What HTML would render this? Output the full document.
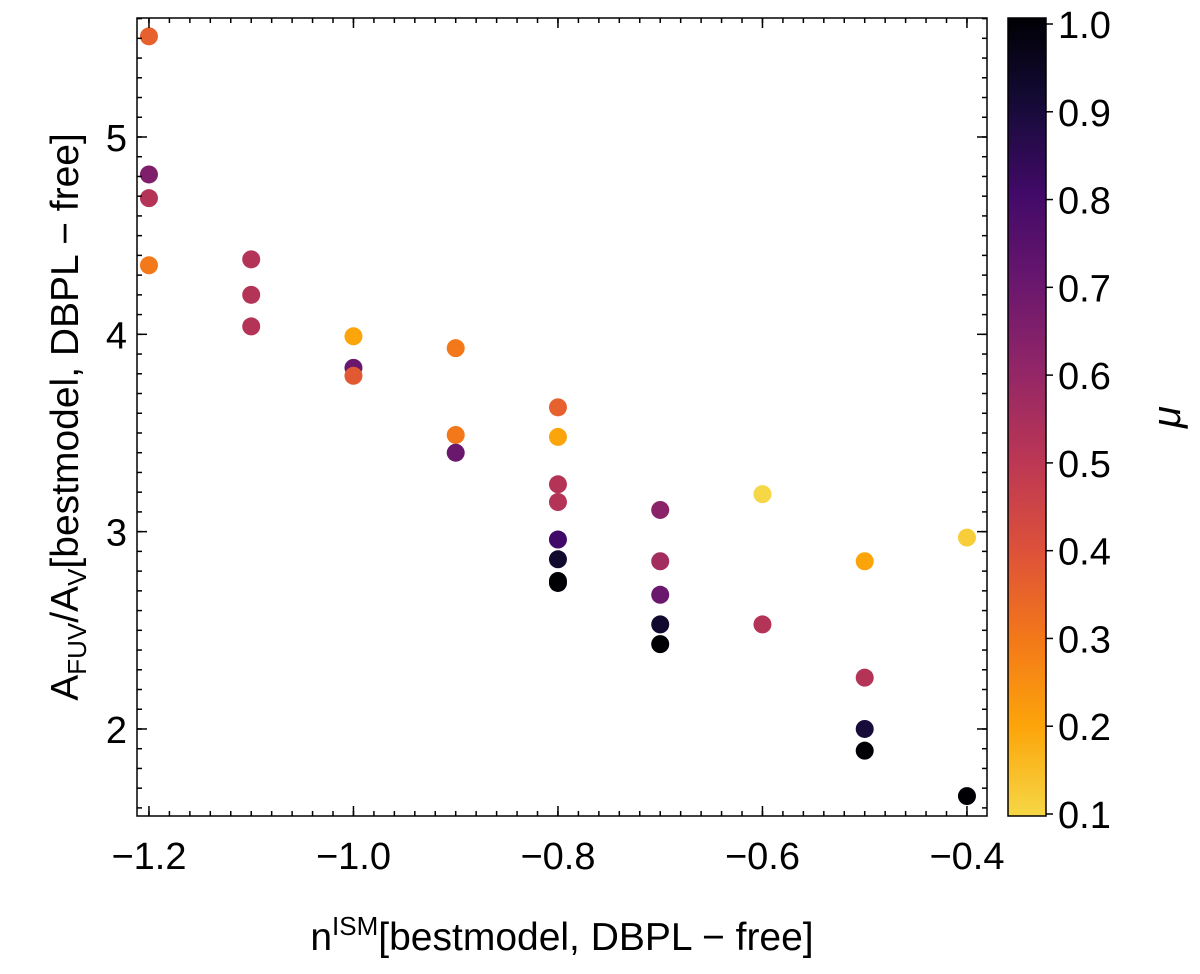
<!DOCTYPE html>
<html><head><meta charset="utf-8"><style>
body{margin:0;background:#fff;}
svg text{font-family:"Liberation Sans","DejaVu Sans",sans-serif;fill:#000;}
</style></head><body>
<svg id="chart" width="1200" height="969" viewBox="0 0 1200 969" xmlns="http://www.w3.org/2000/svg">
<defs>
<linearGradient id="cbgrad" x1="0" y1="1" x2="0" y2="0">
<stop offset="0" stop-color="#f6d746"/><stop offset="0.111" stop-color="#fca50a"/>
<stop offset="0.222" stop-color="#f37819"/><stop offset="0.333" stop-color="#dd513a"/>
<stop offset="0.444" stop-color="#bc3754"/><stop offset="0.556" stop-color="#932667"/>
<stop offset="0.667" stop-color="#6a176e"/><stop offset="0.778" stop-color="#420a68"/>
<stop offset="0.889" stop-color="#160b39"/><stop offset="1" stop-color="#000004"/>
</linearGradient>
</defs>
<g id="marks"></g>
<rect x="137" y="18" width="850" height="798" fill="none" stroke="#000" stroke-width="1.5"/>
<g id="axes"></g>
<rect x="1008" y="18" width="38" height="798" fill="url(#cbgrad)" stroke="#000" stroke-width="1.5"/>
<g id="cbaxis"></g>
<text x="562" y="950" font-size="39" text-anchor="middle">n<tspan font-size="26" dy="-15">ISM</tspan><tspan dy="15">[bestmodel, DBPL − free]</tspan></text>
<text transform="translate(78,417) rotate(-90)" font-size="39" text-anchor="middle">A<tspan font-size="26" dy="8">FUV</tspan><tspan dy="-8">/A</tspan><tspan font-size="26" dy="8">V</tspan><tspan dy="-8">[bestmodel, DBPL − free]</tspan></text>
<text transform="translate(1180,417) rotate(-90)" font-size="40" font-style="italic" text-anchor="middle">μ</text>
</svg>
<script>
const xVals=[-1.2,-1.2,-1.2,-1.2,-1.1,-1.1,-1.1,-1.0,-1.0,-1.0,-0.9,-0.9,-0.9,-0.8,-0.8,-0.8,-0.8,-0.8,-0.8,-0.8,-0.8,-0.7,-0.7,-0.7,-0.7,-0.7,-0.6,-0.6,-0.5,-0.5,-0.5,-0.5,-0.4,-0.4];
const yVals=[5.51,4.81,4.69,4.35,4.38,4.20,4.04,3.99,3.83,3.79,3.93,3.49,3.40,3.63,3.48,3.24,3.15,2.96,2.86,2.75,2.74,3.11,2.85,2.68,2.53,2.43,3.19,2.53,2.85,2.26,2.00,1.89,2.97,1.66];
const muVals=[0.36,0.65,0.52,0.3,0.52,0.52,0.52,0.2,0.7,0.38,0.3,0.3,0.7,0.36,0.2,0.52,0.52,0.8,0.92,1.0,1.0,0.62,0.56,0.7,0.92,1.0,0.1,0.52,0.2,0.52,0.9,1.0,0.12,1.0];
const xTicks=[-1.2,-1.0,-0.8,-0.6,-0.4];
const xTickLabels=["−1.2","−1.0","−0.8","−0.6","−0.4"];
const yTicks=[2,3,4,5];
const yTickLabels=["2","3","4","5"];
const cbTicks=[0.1,0.2,0.3,0.4,0.5,0.6,0.7,0.8,0.9,1.0];
const cbTickLabels=["0.1","0.2","0.3","0.4","0.5","0.6","0.7","0.8","0.9","1.0"];
const NS="http://www.w3.org/2000/svg";
const X0=137,X1=987,Y0=816,Y1=18;
const xmin=-1.2117,xmax=-0.3804,ymin=1.559,ymax=5.603;
const xs=v=>X0+(v-xmin)/(xmax-xmin)*(X1-X0);
const ys=v=>Y0-(v-ymin)/(ymax-ymin)*(Y0-Y1);
const cmin=0.1,cmax=1.0,CB0=814,CB1=24;
const cs=v=>CB0-(v-cmin)/(cmax-cmin)*(CB0-CB1);
const stops=["#000004","#160b39","#420a68","#6a176e","#932667","#bc3754","#dd513a","#f37819","#fca50a","#f6d746","#fcffa4"];
function hex(h){return [1,3,5].map(i=>parseInt(h.substr(i,2),16));}
function inferno(t){t=Math.max(0,Math.min(1,t));const p=t*10,i=Math.min(9,Math.floor(p)),f=p-i;const a=hex(stops[i]),b=hex(stops[i+1]);return "rgb("+a.map((c,k)=>Math.round(c+(b[k]-c)*f)).join(",")+")";}
function mk(tag,attrs,parent){const e=document.createElementNS(NS,tag);for(const k in attrs)e.setAttribute(k,attrs[k]);parent.appendChild(e);return e;}
const marks=document.getElementById('marks');
for(let i=0;i<xVals.length;i++){
 const c=mk('circle',{cx:xs(xVals[i]),cy:ys(yVals[i]),r:9,fill:inferno(1-muVals[i])},marks);
 
 
}
const axes=document.getElementById('axes');
function line(x1,y1,x2,y2,p){mk('line',{x1,y1,x2,y2,stroke:'#000','stroke-width':1.5},p);}
xTicks.forEach((v,i)=>{const x=xs(v);line(x,Y0,x,Y0-10,axes);line(x,Y1,x,Y1+10,axes);
 const t=mk('text',{x:x,y:Y0+53,'font-size':38,'text-anchor':'middle'},axes);t.textContent=xTickLabels[i];
 
 });
for(let v=-1.2;v<=-0.38;v+=0.02){const x=xs(v);line(x,Y0,x,Y0-5,axes);line(x,Y1,x,Y1+5,axes);}
yTicks.forEach((v,i)=>{const y=ys(v);line(X0,y,X0+10,y,axes);line(X1,y,X1-10,y,axes);
 const t=mk('text',{x:X0-10,y:y+14,'font-size':38,'text-anchor':'end'},axes);t.textContent=yTickLabels[i];
 
 });
for(let v=1.6;v<=5.6;v+=0.1){const y=ys(v);line(X0,y,X0+5,y,axes);line(X1,y,X1-5,y,axes);}
const cba=document.getElementById('cbaxis');
cbTicks.forEach((v,i)=>{const y=cs(v);line(1046,y,1053,y,cba);
 const t=mk('text',{x:1058,y:y+14,'font-size':38},cba);t.textContent=cbTickLabels[i];
 
 });
</script>
</body></html>
